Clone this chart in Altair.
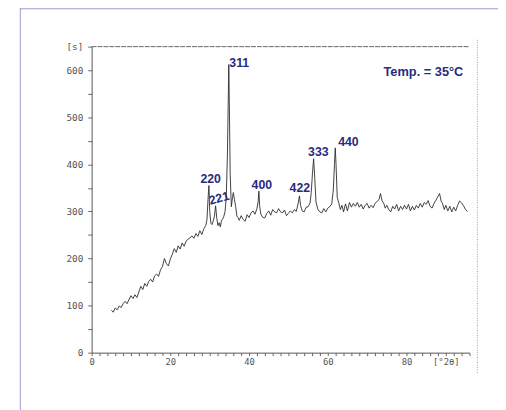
import altair as alt
import pandas as pd

two_theta = [5.0, 5.5, 6.0, 6.5, 7.0, 7.5, 8.0, 8.5, 9.0, 9.5, 10.0, 10.5, 11.0, 11.5, 12.0, 12.5,
             13.0, 13.5, 14.0, 14.5, 15.0, 15.5, 16.0, 16.5, 17.0, 17.5, 18.0, 18.5, 19.0, 19.5,
             20.0, 20.5, 21.0, 21.5, 22.0, 22.5, 23.0, 23.5, 24.0, 24.5, 25.0, 25.5, 26.0, 26.5,
             27.0, 27.5, 28.0, 28.5, 29.0, 29.3, 29.6, 29.8, 30.0, 30.3, 30.6, 30.9, 31.2, 31.5,
             31.8, 32.1, 32.4, 32.7, 33.0, 33.3, 33.6, 33.9, 34.2, 34.5, 34.7, 34.85, 35.0, 35.2,
             35.5, 35.8, 36.0, 36.3, 36.6, 36.9, 37.2, 37.5, 38.0, 38.5, 39.0, 39.5, 40.0, 40.5,
             41.0, 41.5, 42.0, 42.3, 42.5, 42.7, 43.0, 43.5, 44.0, 44.5, 45.0, 45.5, 46.0, 46.5,
             47.0, 47.5, 48.0, 48.5, 49.0, 49.5, 50.0, 50.5, 51.0, 51.5, 52.0, 52.5, 52.8, 53.1,
             53.5, 54.0, 54.5, 55.0, 55.5, 55.8, 56.1, 56.4, 56.7, 57.0, 57.5, 58.0, 58.5, 59.0,
             59.5, 60.0, 60.5, 61.0, 61.4, 61.7, 61.9, 62.1, 62.4, 62.8, 63.2, 63.6, 64.0, 64.5,
             65.0, 65.5, 66.0, 66.5, 67.0, 67.5, 68.0, 68.5, 69.0, 69.5, 70.0, 70.5, 71.0, 71.5,
             72.0, 72.5, 73.0, 73.4, 73.8, 74.2, 74.6, 75.0, 75.5, 76.0, 76.5, 77.0, 77.5, 78.0,
             78.5, 79.0, 79.5, 80.0, 80.5, 81.0, 81.5, 82.0, 82.5, 83.0, 83.5, 84.0, 84.5, 85.0,
             85.5, 86.0, 86.5, 87.0, 87.5, 88.0, 88.4, 88.8, 89.2, 89.6, 90.0, 90.5, 91.0, 91.5,
             92.0, 92.5, 93.0, 93.5, 94.0, 94.5, 95.0, 95.5]
intensity = [90, 86, 95, 91, 99, 96, 104, 109, 104, 113, 121, 115, 123, 117, 129, 141,
             134, 147, 141, 151, 156, 150, 163, 167, 162, 176, 183, 200, 189, 184,
             199, 209, 221, 213, 227, 220, 233, 226, 237, 241, 244, 248, 243, 253,
             247, 259, 251, 263, 270, 282, 330, 355, 300, 275, 272, 280, 290, 312,
             285, 270, 276, 267, 281, 284, 290, 300, 330, 420, 530, 612, 520, 380,
             310, 330, 340, 325, 310, 290, 287, 281, 291, 283, 279, 293, 287, 297,
             301, 294, 306, 320, 343, 310, 294, 287, 286, 296, 301, 292, 304, 299,
             297, 306, 299, 297, 303, 291, 296, 301, 297, 304, 300, 318, 333, 312,
             301, 299, 309, 310, 318, 340, 380, 412, 370, 320, 304, 299, 297, 306,
             299, 307, 310, 316, 345, 400, 435, 400, 330, 318, 304, 313, 299, 316,
             301, 319, 309, 317, 311, 319, 309, 315, 305, 313, 317, 307, 313, 308,
             317, 321, 325, 338, 322, 318, 307, 313, 304, 299, 311, 305, 315, 301,
             311, 304, 313, 305, 315, 301, 311, 303, 313, 307, 317, 309, 319, 315,
             323, 311, 307, 317, 324, 332, 338, 322, 316, 304, 313, 301, 311, 299,
             309, 301, 313, 322, 318, 312, 304, 300]

peak_hkl = ["220", "221", "311", "400", "422", "333", "440"]
peak_x = [30.25, 32.4, 37.5, 43.25, 52.9, 57.6, 65.25]
peak_y = [368, 328, 615, 356, 349, 426, 447]
peak_angle = [0, 345, 0, 0, 0, 0, 0]

temp_text = ["Temp. = 35°C"]
temp_x = [84.3]
temp_y = [597]

x_ticks = list(range(0, 97, 2))
y_ticks = list(range(0, 651, 50))

pattern = pd.DataFrame({"two_theta": two_theta, "intensity": intensity})
peaks = pd.DataFrame({"hkl": peak_hkl, "two_theta": peak_x, "intensity": peak_y, "angle": peak_angle})
temp = pd.DataFrame({"t": temp_text, "two_theta": temp_x, "intensity": temp_y})
one = pd.DataFrame({"k": [0]})

mono = "DejaVu Sans Mono"
navy = "#2a2a80"
label_font = "Liberation Sans Narrow, Arial Narrow, Liberation Sans"

xscale = alt.Scale(domain=[0, 96], nice=False, zero=False)
yscale = alt.Scale(domain=[0, 650], nice=False)

xaxis = alt.Axis(
    values=x_ticks, title=None, grid=False, tickSize=3, labelPadding=2,
    labelExpr="datum.value == 90 ? '[°2θ]' : ((datum.value % 20 == 0 && datum.value <= 80) ? datum.label : '')",
    labelFont=mono, labelFontSize=9, labelColor="#555", domainColor="#555", tickColor="#666",
    labelFlush=False, labelOverlap=False)
yaxis = alt.Axis(
    values=y_ticks, title=None, grid=False, tickSize=4, labelPadding=5,
    labelExpr="datum.value == 650 ? '[s]' : (datum.value % 100 == 0 ? datum.label : '')",
    labelFont=mono, labelFontSize=9.5, labelColor="#555", domainColor="#555", tickColor="#666",
    labelFlush=False, labelOverlap=False)

X = alt.X("two_theta:Q", scale=xscale, axis=xaxis)
Y = alt.Y("intensity:Q", scale=yscale, axis=yaxis)

line = alt.Chart(pattern).mark_line(color="#2b2b2b", strokeWidth=0.9).encode(x=X, y=Y)

# decorations (pixel positions relative to the plot area)
top_line = alt.Chart(one).mark_rule(color="#666", strokeWidth=1, strokeDash=[5, 1]).encode(
    x=alt.value(0), x2=alt.value(384), y=alt.value(0))

right_dots = alt.Chart(one).mark_rule(color="#999", strokeWidth=1, strokeDash=[1, 1.5]).encode(
    x=alt.value(392), y=alt.value(-7), y2=alt.value(332))

frame_top = alt.Chart(one).mark_rule(color="#9a9ad0", strokeWidth=1).encode(
    x=alt.value(-73), x2=alt.value(460), y=alt.value(-38.5))
frame_left = alt.Chart(one).mark_rule(color="#9a9ad0", strokeWidth=1).encode(
    x=alt.value(-72.5), y=alt.value(-39), y2=alt.value(420))

peak_text = alt.Chart(peaks).mark_text(
    font=label_font, fontSize=12.5, fontWeight="bold", color=navy, align="center", baseline="middle"
).encode(x=X, y=Y, text="hkl:N", angle=alt.Angle("angle:Q", scale=None))

temp_label = alt.Chart(temp).mark_text(
    font=label_font, fontSize=13, fontWeight="bold", color=navy, align="center", baseline="middle"
).encode(x=X, y=Y, text="t:N")

chart = alt.layer(line, frame_top, frame_left, top_line, right_dots, peak_text, temp_label).properties(
    width=384, height=311,
    padding={"left": 85, "top": 36, "right": 29, "bottom": 55},
    autosize=alt.AutoSizeParams(type="none"),
    background="white",
).configure_view(stroke=None)

chart.save("out.html", embed_options={"renderer": "svg", "actions": False})
